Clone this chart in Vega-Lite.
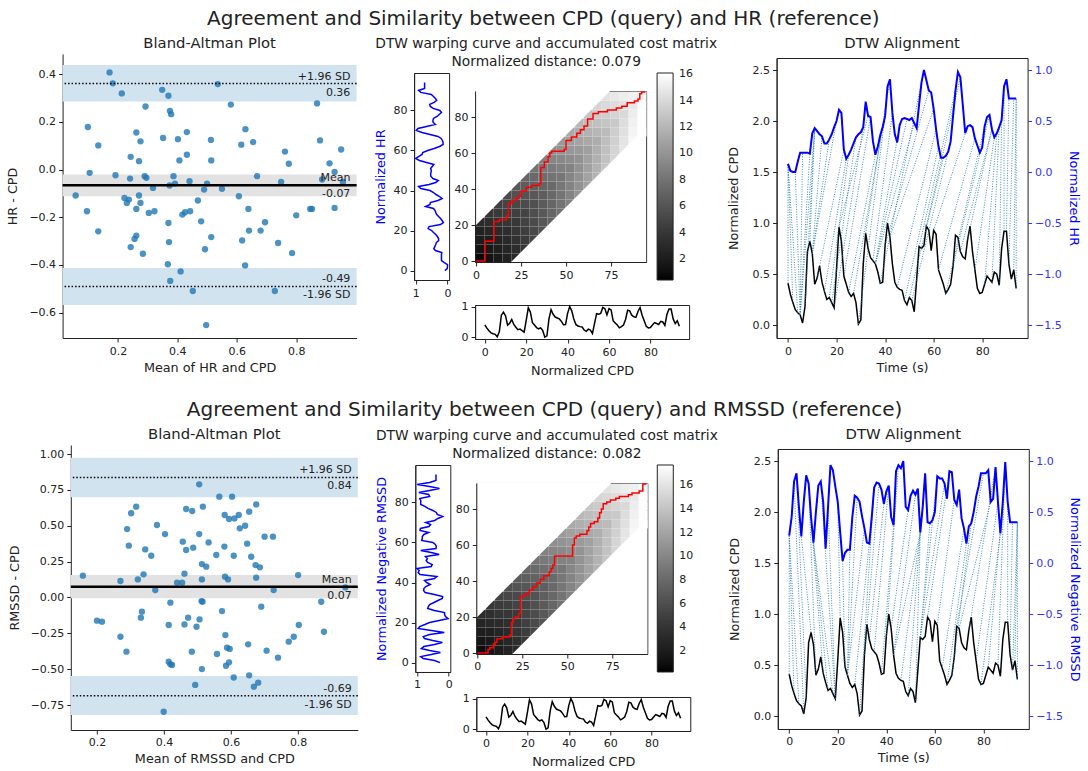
{
"$schema": "https://vega.github.io/schema/vega-lite/v6.json",
"padding": {"left": 6.6, "top": 8, "right": 1, "bottom": 1},
"config": {
  "font": "DejaVu Sans",
  "view": {"stroke": null},
  "axis": {"labelFont": "DejaVu Sans", "titleFont": "DejaVu Sans", "labelFontSize": 11, "titleFontSize": 12.8, "titleFontWeight": "normal", "labelColor": "#222", "titleColor": "#222", "tickColor": "#222", "domainColor": "#222", "tickSize": 4, "labelPadding": 3, "titlePadding": 5, "grid": false, "labelFlush": false, "labelOverlap": false, "labelBound": false},
  "title": {"font": "DejaVu Sans", "fontSize": 14.8, "fontWeight": "normal", "color": "#222", "frame": "group", "anchor": "middle", "offset": 3},
  "legend": {"labelFont": "DejaVu Sans", "labelFontSize": 11, "labelColor": "#222", "gradientStrokeColor": "#222", "gradientStrokeWidth": 1},
  "text": {"font": "DejaVu Sans", "fontSize": 11, "color": "#222"}
},
"datasets": {
  "cpd": [{"t":0,"v":0.41},{"t":1,"v":0.30},{"t":2,"v":0.22},{"t":3,"v":0.15},{"t":4,"v":0.12},{"t":5,"v":0.10},{"t":6,"v":0.02},{"t":7,"v":0.18},{"t":8,"v":0.72},{"t":9,"v":0.82},{"t":10,"v":0.70},{"t":11,"v":0.40},{"t":12,"v":0.46},{"t":13,"v":0.58},{"t":14,"v":0.42},{"t":15,"v":0.33},{"t":16,"v":0.25},{"t":17,"v":0.27},{"t":18,"v":0.22},{"t":19,"v":0.17},{"t":20,"v":0.55},{"t":21,"v":0.96},{"t":22,"v":0.82},{"t":23,"v":0.48},{"t":24,"v":0.40},{"t":25,"v":0.32},{"t":26,"v":0.28},{"t":27,"v":0.31},{"t":28,"v":0.22},{"t":29,"v":0.01},{"t":30,"v":0.05},{"t":31,"v":0.60},{"t":32,"v":0.90},{"t":33,"v":0.75},{"t":34,"v":0.66},{"t":35,"v":0.63},{"t":36,"v":0.60},{"t":37,"v":0.52},{"t":38,"v":0.41},{"t":39,"v":0.42},{"t":40,"v":0.78},{"t":41,"v":1.00},{"t":42,"v":0.86},{"t":43,"v":0.60},{"t":44,"v":0.42},{"t":45,"v":0.37},{"t":46,"v":0.35},{"t":47,"v":0.34},{"t":48,"v":0.24},{"t":49,"v":0.20},{"t":50,"v":0.27},{"t":51,"v":0.24},{"t":52,"v":0.13},{"t":53,"v":0.45},{"t":54,"v":0.77},{"t":55,"v":0.75},{"t":56,"v":0.78},{"t":57,"v":0.97},{"t":58,"v":0.93},{"t":59,"v":0.73},{"t":60,"v":0.93},{"t":61,"v":0.89},{"t":62,"v":0.54},{"t":63,"v":0.47},{"t":64,"v":0.40},{"t":65,"v":0.31},{"t":66,"v":0.35},{"t":67,"v":0.40},{"t":68,"v":0.58},{"t":69,"v":0.88},{"t":70,"v":0.86},{"t":71,"v":0.72},{"t":72,"v":0.67},{"t":73,"v":0.65},{"t":74,"v":0.84},{"t":75,"v":0.97},{"t":76,"v":0.72},{"t":77,"v":0.54},{"t":78,"v":0.36},{"t":79,"v":0.31},{"t":80,"v":0.32},{"t":81,"v":0.40},{"t":82,"v":0.48},{"t":83,"v":0.45},{"t":84,"v":0.42},{"t":85,"v":0.52},{"t":86,"v":0.50},{"t":87,"v":0.39},{"t":88,"v":0.75},{"t":89,"v":0.92},{"t":90,"v":0.92},{"t":91,"v":0.60},{"t":92,"v":0.45},{"t":93,"v":0.54},{"t":94,"v":0.36}],
  "hr": [{"t":0,"v":0.08},{"t":1,"v":0.01},{"t":2,"v":0.00},{"t":3,"v":0.00},{"t":4,"v":0.10},{"t":5,"v":0.19},{"t":6,"v":0.19},{"t":7,"v":0.19},{"t":8,"v":0.19},{"t":9,"v":0.18},{"t":10,"v":0.38},{"t":11,"v":0.43},{"t":12,"v":0.40},{"t":13,"v":0.37},{"t":14,"v":0.35},{"t":15,"v":0.28},{"t":16,"v":0.28},{"t":17,"v":0.32},{"t":18,"v":0.37},{"t":19,"v":0.44},{"t":20,"v":0.50},{"t":21,"v":0.61},{"t":22,"v":0.58},{"t":23,"v":0.22},{"t":24,"v":0.13},{"t":25,"v":0.17},{"t":26,"v":0.22},{"t":27,"v":0.28},{"t":28,"v":0.34},{"t":29,"v":0.37},{"t":30,"v":0.39},{"t":31,"v":0.44},{"t":32,"v":0.69},{"t":33,"v":0.55},{"t":34,"v":0.54},{"t":35,"v":0.30},{"t":36,"v":0.17},{"t":37,"v":0.25},{"t":38,"v":0.36},{"t":39,"v":0.44},{"t":40,"v":0.55},{"t":41,"v":0.84},{"t":42,"v":0.91},{"t":43,"v":0.58},{"t":44,"v":0.37},{"t":45,"v":0.29},{"t":46,"v":0.46},{"t":47,"v":0.52},{"t":48,"v":0.53},{"t":49,"v":0.52},{"t":50,"v":0.51},{"t":51,"v":0.53},{"t":52,"v":0.48},{"t":53,"v":0.43},{"t":54,"v":0.66},{"t":55,"v":0.88},{"t":56,"v":1.00},{"t":57,"v":0.90},{"t":58,"v":0.80},{"t":59,"v":0.78},{"t":60,"v":0.62},{"t":61,"v":0.42},{"t":62,"v":0.25},{"t":63,"v":0.14},{"t":64,"v":0.14},{"t":65,"v":0.16},{"t":66,"v":0.20},{"t":67,"v":0.30},{"t":68,"v":0.55},{"t":69,"v":0.80},{"t":70,"v":0.98},{"t":71,"v":0.93},{"t":72,"v":0.66},{"t":73,"v":0.38},{"t":74,"v":0.45},{"t":75,"v":0.46},{"t":76,"v":0.44},{"t":77,"v":0.33},{"t":78,"v":0.26},{"t":79,"v":0.19},{"t":80,"v":0.24},{"t":81,"v":0.45},{"t":82,"v":0.54},{"t":83,"v":0.56},{"t":84,"v":0.42},{"t":85,"v":0.34},{"t":86,"v":0.38},{"t":87,"v":0.44},{"t":88,"v":0.51},{"t":89,"v":0.84},{"t":90,"v":0.91},{"t":91,"v":0.72},{"t":92,"v":0.72},{"t":93,"v":0.72},{"t":94,"v":0.72}],
  "rmssd": [{"t":0,"v":0.27},{"t":1,"v":0.45},{"t":2,"v":0.80},{"t":3,"v":0.88},{"t":4,"v":0.55},{"t":5,"v":0.26},{"t":6,"v":0.60},{"t":7,"v":0.86},{"t":8,"v":0.78},{"t":9,"v":0.45},{"t":10,"v":0.20},{"t":11,"v":0.50},{"t":12,"v":0.76},{"t":13,"v":0.80},{"t":14,"v":0.60},{"t":15,"v":0.14},{"t":16,"v":0.55},{"t":17,"v":0.96},{"t":18,"v":0.91},{"t":19,"v":0.75},{"t":20,"v":0.60},{"t":21,"v":0.30},{"t":22,"v":0.02},{"t":23,"v":0.10},{"t":24,"v":0.13},{"t":25,"v":0.13},{"t":26,"v":0.45},{"t":27,"v":0.66},{"t":28,"v":0.64},{"t":29,"v":0.60},{"t":30,"v":0.46},{"t":31,"v":0.34},{"t":32,"v":0.20},{"t":33,"v":0.19},{"t":34,"v":0.45},{"t":35,"v":0.74},{"t":36,"v":0.79},{"t":37,"v":0.78},{"t":38,"v":0.72},{"t":39,"v":0.58},{"t":40,"v":0.70},{"t":41,"v":0.76},{"t":42,"v":0.45},{"t":43,"v":0.37},{"t":44,"v":0.90},{"t":45,"v":0.96},{"t":46,"v":0.93},{"t":47,"v":1.00},{"t":48,"v":0.55},{"t":49,"v":0.52},{"t":50,"v":0.66},{"t":51,"v":0.71},{"t":52,"v":0.67},{"t":53,"v":0.73},{"t":54,"v":0.30},{"t":55,"v":0.55},{"t":56,"v":0.88},{"t":57,"v":0.40},{"t":58,"v":0.39},{"t":59,"v":0.42},{"t":60,"v":0.50},{"t":61,"v":0.85},{"t":62,"v":0.83},{"t":63,"v":0.83},{"t":64,"v":0.78},{"t":65,"v":0.63},{"t":66,"v":0.90},{"t":67,"v":0.89},{"t":68,"v":0.62},{"t":69,"v":0.57},{"t":70,"v":0.72},{"t":71,"v":0.44},{"t":72,"v":0.34},{"t":73,"v":0.19},{"t":74,"v":0.36},{"t":75,"v":0.39},{"t":76,"v":0.50},{"t":77,"v":0.65},{"t":78,"v":0.75},{"t":79,"v":0.88},{"t":80,"v":0.88},{"t":81,"v":0.88},{"t":82,"v":0.91},{"t":83,"v":0.60},{"t":84,"v":0.63},{"t":85,"v":0.94},{"t":86,"v":0.60},{"t":87,"v":0.29},{"t":88,"v":0.60},{"t":89,"v":0.99},{"t":90,"v":0.60},{"t":91,"v":0.40},{"t":92,"v":0.40},{"t":93,"v":0.40},{"t":94,"v":0.40}],
  "ba1": [{"m":0.172,"d":0.407},{"m":0.183,"d":0.361},{"m":0.213,"d":0.319},{"m":0.293,"d":0.264},{"m":0.349,"d":0.334},{"m":0.370,"d":0.309},{"m":0.375,"d":0.246},{"m":0.379,"d":0.232},{"m":0.536,"d":0.358},{"m":0.580,"d":0.272},{"m":0.870,"d":0.277},{"m":0.099,"d":0.178},{"m":0.262,"d":0.155},{"m":0.134,"d":0.101},{"m":0.276,"d":0.118},{"m":0.352,"d":0.132},{"m":0.402,"d":0.127},{"m":0.432,"d":0.157},{"m":0.513,"d":0.124},{"m":0.629,"d":0.169},{"m":0.615,"d":0.104},{"m":0.655,"d":0.115},{"m":0.880,"d":0.122},{"m":0.243,"d":0.053},{"m":0.271,"d":0.035},{"m":0.432,"d":0.062},{"m":0.407,"d":0.038},{"m":0.514,"d":0.038},{"m":0.762,"d":0.075},{"m":0.775,"d":0.024},{"m":0.912,"d":0.026},{"m":0.951,"d":0.084},{"m":0.929,"d":-0.010},{"m":0.105,"d":-0.014},{"m":0.192,"d":-0.024},{"m":0.241,"d":-0.038},{"m":0.290,"d":-0.028},{"m":0.296,"d":-0.035},{"m":0.387,"d":-0.028},{"m":0.392,"d":-0.059},{"m":0.374,"d":-0.067},{"m":0.441,"d":-0.049},{"m":0.500,"d":-0.059},{"m":0.550,"d":-0.081},{"m":0.490,"d":-0.084},{"m":0.318,"d":-0.077},{"m":0.607,"d":-0.112},{"m":0.668,"d":-0.028},{"m":0.749,"d":-0.052},{"m":0.887,"d":-0.042},{"m":0.957,"d":-0.052},{"m":0.058,"d":-0.109},{"m":0.222,"d":-0.119},{"m":0.237,"d":-0.126},{"m":0.230,"d":-0.140},{"m":0.271,"d":-0.109},{"m":0.276,"d":-0.140},{"m":0.262,"d":-0.165},{"m":0.469,"d":-0.130},{"m":0.096,"d":-0.175},{"m":0.304,"d":-0.182},{"m":0.323,"d":-0.175},{"m":0.417,"d":-0.189},{"m":0.426,"d":-0.179},{"m":0.443,"d":-0.175},{"m":0.480,"d":-0.217},{"m":0.639,"d":-0.165},{"m":0.847,"d":-0.165},{"m":0.853,"d":-0.165},{"m":0.800,"d":-0.192},{"m":0.929,"d":-0.161},{"m":0.695,"d":-0.221},{"m":0.641,"d":-0.256},{"m":0.680,"d":-0.256},{"m":0.134,"d":-0.259},{"m":0.370,"d":-0.224},{"m":0.262,"d":-0.277},{"m":0.256,"d":-0.291},{"m":0.243,"d":-0.325},{"m":0.284,"d":-0.353},{"m":0.372,"d":-0.304},{"m":0.493,"d":-0.334},{"m":0.514,"d":-0.283},{"m":0.618,"d":-0.297},{"m":0.739,"d":-0.308},{"m":0.786,"d":-0.350},{"m":0.368,"d":-0.397},{"m":0.411,"d":-0.427},{"m":0.628,"d":-0.402},{"m":0.376,"d":-0.467},{"m":0.452,"d":-0.509},{"m":0.728,"d":-0.509},{"m":0.497,"d":-0.652}],
  "ba2": [{"m":0.505,"d":0.789},{"m":0.565,"d":0.703},{"m":0.603,"d":0.703},{"m":0.675,"d":0.649},{"m":0.317,"d":0.633},{"m":0.516,"d":0.633},{"m":0.466,"d":0.617},{"m":0.484,"d":0.603},{"m":0.302,"d":0.587},{"m":0.581,"d":0.575},{"m":0.623,"d":0.575},{"m":0.654,"d":0.598},{"m":0.610,"d":0.551},{"m":0.594,"d":0.547},{"m":0.642,"d":0.500},{"m":0.626,"d":0.482},{"m":0.290,"d":0.477},{"m":0.379,"d":0.505},{"m":0.403,"d":0.442},{"m":0.505,"d":0.442},{"m":0.700,"d":0.424},{"m":0.725,"d":0.424},{"m":0.456,"d":0.389},{"m":0.533,"d":0.384},{"m":0.487,"d":0.347},{"m":0.466,"d":0.331},{"m":0.295,"d":0.361},{"m":0.648,"d":0.375},{"m":0.580,"d":0.355},{"m":0.344,"d":0.335},{"m":0.362,"d":0.291},{"m":0.556,"d":0.296},{"m":0.608,"d":0.291},{"m":0.660,"d":0.284},{"m":0.513,"d":0.233},{"m":0.526,"d":0.215},{"m":0.673,"d":0.226},{"m":0.686,"d":0.210},{"m":0.158,"d":0.152},{"m":0.339,"d":0.161},{"m":0.461,"d":0.166},{"m":0.582,"d":0.145},{"m":0.591,"d":0.126},{"m":0.513,"d":0.126},{"m":0.322,"d":0.126},{"m":0.800,"d":0.156},{"m":0.675,"d":0.138},{"m":0.270,"d":0.115},{"m":0.439,"d":0.103},{"m":0.454,"d":0.103},{"m":0.374,"d":0.052},{"m":0.727,"d":0.052},{"m":0.941,"d":0.070},{"m":0.419,"d":-0.036},{"m":0.512,"d":-0.025},{"m":0.515,"d":-0.030},{"m":0.573,"d":-0.095},{"m":0.690,"d":-0.064},{"m":0.869,"d":-0.030},{"m":0.334,"d":-0.099},{"m":0.331,"d":-0.141},{"m":0.200,"d":-0.162},{"m":0.215,"d":-0.169},{"m":0.472,"d":-0.141},{"m":0.506,"d":-0.153},{"m":0.414,"d":-0.192},{"m":0.461,"d":-0.188},{"m":0.497,"d":-0.204},{"m":0.802,"d":-0.192},{"m":0.877,"d":-0.239},{"m":0.270,"d":-0.274},{"m":0.583,"d":-0.262},{"m":0.787,"d":-0.274},{"m":0.772,"d":-0.308},{"m":0.596,"d":-0.359},{"m":0.588,"d":-0.350},{"m":0.651,"d":-0.327},{"m":0.288,"d":-0.378},{"m":0.483,"d":-0.378},{"m":0.706,"d":-0.371},{"m":0.558,"d":-0.394},{"m":0.740,"d":-0.420},{"m":0.414,"d":-0.448},{"m":0.419,"d":-0.466},{"m":0.424,"d":-0.471},{"m":0.585,"d":-0.476},{"m":0.594,"d":-0.452},{"m":0.513,"d":-0.499},{"m":0.608,"d":-0.558},{"m":0.654,"d":-0.543},{"m":0.493,"d":-0.610},{"m":0.668,"d":-0.622},{"m":0.681,"d":-0.594},{"m":0.399,"d":-0.797}],
  "cm1": [{"i":-0.5,"j":-0.5,"v":0.8},{"i":-0.5,"j":4.5,"v":1.4},{"i":-0.5,"j":9.5,"v":2.0},{"i":-0.5,"j":14.5,"v":2.5},{"i":-0.5,"j":19.5,"v":3.1},
    {"i":4.5,"j":-0.5,"v":1.3},{"i":4.5,"j":4.5,"v":1.7},{"i":4.5,"j":9.5,"v":2.2},{"i":4.5,"j":14.5,"v":2.8},{"i":4.5,"j":19.5,"v":3.3},{"i":4.5,"j":24.5,"v":3.9},
    {"i":9.5,"j":-0.5,"v":1.8},{"i":9.5,"j":4.5,"v":2.2},{"i":9.5,"j":9.5,"v":2.5},{"i":9.5,"j":14.5,"v":3.0},{"i":9.5,"j":19.5,"v":3.6},{"i":9.5,"j":24.5,"v":4.2},{"i":9.5,"j":29.5,"v":4.7},
    {"i":14.5,"j":-0.5,"v":2.4},{"i":14.5,"j":4.5,"v":2.7},{"i":14.5,"j":9.5,"v":3.0},{"i":14.5,"j":14.5,"v":3.3},{"i":14.5,"j":19.5,"v":3.9},{"i":14.5,"j":24.5,"v":4.4},{"i":14.5,"j":29.5,"v":5.0},{"i":14.5,"j":34.5,"v":5.5},
    {"i":19.5,"j":-0.5,"v":3.0},{"i":19.5,"j":4.5,"v":3.3},{"i":19.5,"j":9.5,"v":3.6},{"i":19.5,"j":14.5,"v":3.9},{"i":19.5,"j":19.5,"v":4.1},{"i":19.5,"j":24.5,"v":4.7},{"i":19.5,"j":29.5,"v":5.2},{"i":19.5,"j":34.5,"v":5.8},{"i":19.5,"j":39.5,"v":6.3},
    {"i":24.5,"j":4.5,"v":4.0},{"i":24.5,"j":9.5,"v":4.3},{"i":24.5,"j":14.5,"v":4.5},{"i":24.5,"j":19.5,"v":4.8},{"i":24.5,"j":24.5,"v":4.9},{"i":24.5,"j":29.5,"v":5.5},{"i":24.5,"j":34.5,"v":6.0},{"i":24.5,"j":39.5,"v":6.6},{"i":24.5,"j":44.5,"v":7.2},
    {"i":29.5,"j":9.5,"v":5.0},{"i":29.5,"j":14.5,"v":5.2},{"i":29.5,"j":19.5,"v":5.4},{"i":29.5,"j":24.5,"v":5.6},{"i":29.5,"j":29.5,"v":5.8},{"i":29.5,"j":34.5,"v":6.3},{"i":29.5,"j":39.5,"v":6.9},{"i":29.5,"j":44.5,"v":7.4},{"i":29.5,"j":49.5,"v":8.0},
    {"i":34.5,"j":14.5,"v":5.9},{"i":34.5,"j":19.5,"v":6.2},{"i":34.5,"j":24.5,"v":6.3},{"i":34.5,"j":29.5,"v":6.5},{"i":34.5,"j":34.5,"v":6.6},{"i":34.5,"j":39.5,"v":7.1},{"i":34.5,"j":44.5,"v":7.7},{"i":34.5,"j":49.5,"v":8.3},{"i":34.5,"j":54.5,"v":8.8},
    {"i":39.5,"j":19.5,"v":6.9},{"i":39.5,"j":24.5,"v":7.1},{"i":39.5,"j":29.5,"v":7.2},{"i":39.5,"j":34.5,"v":7.3},{"i":39.5,"j":39.5,"v":7.4},{"i":39.5,"j":44.5,"v":8.0},{"i":39.5,"j":49.5,"v":8.5},{"i":39.5,"j":54.5,"v":9.1},{"i":39.5,"j":59.5,"v":9.6},
    {"i":44.5,"j":24.5,"v":7.9},{"i":44.5,"j":29.5,"v":8.0},{"i":44.5,"j":34.5,"v":8.1},{"i":44.5,"j":39.5,"v":8.2},{"i":44.5,"j":44.5,"v":8.2},{"i":44.5,"j":49.5,"v":8.8},{"i":44.5,"j":54.5,"v":9.3},{"i":44.5,"j":59.5,"v":9.9},{"i":44.5,"j":64.5,"v":10.4},
    {"i":49.5,"j":29.5,"v":8.9},{"i":49.5,"j":34.5,"v":9.0},{"i":49.5,"j":39.5,"v":9.0},{"i":49.5,"j":44.5,"v":9.1},{"i":49.5,"j":49.5,"v":9.0},{"i":49.5,"j":54.5,"v":9.6},{"i":49.5,"j":59.5,"v":10.2},{"i":49.5,"j":64.5,"v":10.7},{"i":49.5,"j":69.5,"v":11.3},
    {"i":54.5,"j":34.5,"v":9.9},{"i":54.5,"j":39.5,"v":9.9},{"i":54.5,"j":44.5,"v":9.9},{"i":54.5,"j":49.5,"v":9.9},{"i":54.5,"j":54.5,"v":9.9},{"i":54.5,"j":59.5,"v":10.4},{"i":54.5,"j":64.5,"v":11.0},{"i":54.5,"j":69.5,"v":11.5},{"i":54.5,"j":74.5,"v":12.1},
    {"i":59.5,"j":39.5,"v":10.8},{"i":59.5,"j":44.5,"v":10.9},{"i":59.5,"j":49.5,"v":10.8},{"i":59.5,"j":54.5,"v":10.8},{"i":59.5,"j":59.5,"v":10.7},{"i":59.5,"j":64.5,"v":11.2},{"i":59.5,"j":69.5,"v":11.8},{"i":59.5,"j":74.5,"v":12.4},{"i":59.5,"j":79.5,"v":12.9},
    {"i":64.5,"j":44.5,"v":11.8},{"i":64.5,"j":49.5,"v":11.8},{"i":64.5,"j":54.5,"v":11.7},{"i":64.5,"j":59.5,"v":11.6},{"i":64.5,"j":64.5,"v":11.5},{"i":64.5,"j":69.5,"v":12.1},{"i":64.5,"j":74.5,"v":12.6},{"i":64.5,"j":79.5,"v":13.2},{"i":64.5,"j":84.5,"v":13.7},
    {"i":69.5,"j":49.5,"v":12.8},{"i":69.5,"j":54.5,"v":12.7},{"i":69.5,"j":59.5,"v":12.6},{"i":69.5,"j":64.5,"v":12.5},{"i":69.5,"j":69.5,"v":12.3},{"i":69.5,"j":74.5,"v":12.9},{"i":69.5,"j":79.5,"v":13.4},{"i":69.5,"j":84.5,"v":14.0},{"i":69.5,"j":89.5,"v":14.5},
    {"i":74.5,"j":54.5,"v":13.8},{"i":74.5,"j":59.5,"v":13.7},{"i":74.5,"j":64.5,"v":13.5},{"i":74.5,"j":69.5,"v":13.4},{"i":74.5,"j":74.5,"v":13.1},{"i":74.5,"j":79.5,"v":13.7},{"i":74.5,"j":84.5,"v":14.2},{"i":74.5,"j":89.5,"v":14.8},
    {"i":79.5,"j":59.5,"v":14.7},{"i":79.5,"j":64.5,"v":14.6},{"i":79.5,"j":69.5,"v":14.4},{"i":79.5,"j":74.5,"v":14.2},{"i":79.5,"j":79.5,"v":14.0},{"i":79.5,"j":84.5,"v":14.5},{"i":79.5,"j":89.5,"v":15.1},
    {"i":84.5,"j":64.5,"v":15.7},{"i":84.5,"j":69.5,"v":15.5},{"i":84.5,"j":74.5,"v":15.3},{"i":84.5,"j":79.5,"v":15.1},{"i":84.5,"j":84.5,"v":14.8},{"i":84.5,"j":89.5,"v":15.3},
    {"i":89.5,"j":69.5,"v":16.0},{"i":89.5,"j":74.5,"v":16.0},{"i":89.5,"j":79.5,"v":16.0},{"i":89.5,"j":84.5,"v":15.9},{"i":89.5,"j":89.5,"v":15.6}],
  "cm2": [{"i":-0.5,"j":-0.5,"v":0.9},{"i":-0.5,"j":4.5,"v":1.5},{"i":-0.5,"j":9.5,"v":2.2},{"i":-0.5,"j":14.5,"v":2.8},{"i":-0.5,"j":19.5,"v":3.4},
    {"i":4.5,"j":-0.5,"v":1.4},{"i":4.5,"j":4.5,"v":1.9},{"i":4.5,"j":9.5,"v":2.4},{"i":4.5,"j":14.5,"v":3.1},{"i":4.5,"j":19.5,"v":3.6},{"i":4.5,"j":24.5,"v":4.3},
    {"i":9.5,"j":-0.5,"v":2.0},{"i":9.5,"j":4.5,"v":2.4},{"i":9.5,"j":9.5,"v":2.8},{"i":9.5,"j":14.5,"v":3.3},{"i":9.5,"j":19.5,"v":4.0},{"i":9.5,"j":24.5,"v":4.6},{"i":9.5,"j":29.5,"v":5.2},
    {"i":14.5,"j":-0.5,"v":2.6},{"i":14.5,"j":4.5,"v":3.0},{"i":14.5,"j":9.5,"v":3.3},{"i":14.5,"j":14.5,"v":3.6},{"i":14.5,"j":19.5,"v":4.3},{"i":14.5,"j":24.5,"v":4.8},{"i":14.5,"j":29.5,"v":5.5},{"i":14.5,"j":34.5,"v":6.1},
    {"i":19.5,"j":-0.5,"v":3.3},{"i":19.5,"j":4.5,"v":3.6},{"i":19.5,"j":9.5,"v":4.0},{"i":19.5,"j":14.5,"v":4.3},{"i":19.5,"j":19.5,"v":4.5},{"i":19.5,"j":24.5,"v":5.2},{"i":19.5,"j":29.5,"v":5.7},{"i":19.5,"j":34.5,"v":6.4},{"i":19.5,"j":39.5,"v":6.9},
    {"i":24.5,"j":4.5,"v":4.4},{"i":24.5,"j":9.5,"v":4.7},{"i":24.5,"j":14.5,"v":5.0},{"i":24.5,"j":19.5,"v":5.3},{"i":24.5,"j":24.5,"v":5.4},{"i":24.5,"j":29.5,"v":6.1},{"i":24.5,"j":34.5,"v":6.6},{"i":24.5,"j":39.5,"v":7.3},{"i":24.5,"j":44.5,"v":7.9},
    {"i":29.5,"j":9.5,"v":5.5},{"i":29.5,"j":14.5,"v":5.7},{"i":29.5,"j":19.5,"v":5.9},{"i":29.5,"j":24.5,"v":6.2},{"i":29.5,"j":29.5,"v":6.4},{"i":29.5,"j":34.5,"v":6.9},{"i":29.5,"j":39.5,"v":7.6},{"i":29.5,"j":44.5,"v":8.1},{"i":29.5,"j":49.5,"v":8.8},
    {"i":34.5,"j":14.5,"v":6.5},{"i":34.5,"j":19.5,"v":6.8},{"i":34.5,"j":24.5,"v":6.9},{"i":34.5,"j":29.5,"v":7.2},{"i":34.5,"j":34.5,"v":7.3},{"i":34.5,"j":39.5,"v":7.8},{"i":34.5,"j":44.5,"v":8.5},{"i":34.5,"j":49.5,"v":9.1},{"i":34.5,"j":54.5,"v":9.7},
    {"i":39.5,"j":19.5,"v":7.6},{"i":39.5,"j":24.5,"v":7.8},{"i":39.5,"j":29.5,"v":7.9},{"i":39.5,"j":34.5,"v":8.0},{"i":39.5,"j":39.5,"v":8.1},{"i":39.5,"j":44.5,"v":8.8},{"i":39.5,"j":49.5,"v":9.4},{"i":39.5,"j":54.5,"v":10.0},{"i":39.5,"j":59.5,"v":10.6},
    {"i":44.5,"j":24.5,"v":8.7},{"i":44.5,"j":29.5,"v":8.8},{"i":44.5,"j":34.5,"v":8.9},{"i":44.5,"j":39.5,"v":9.0},{"i":44.5,"j":44.5,"v":9.0},{"i":44.5,"j":49.5,"v":9.7},{"i":44.5,"j":54.5,"v":10.2},{"i":44.5,"j":59.5,"v":10.9},{"i":44.5,"j":64.5,"v":11.4},
    {"i":49.5,"j":29.5,"v":9.8},{"i":49.5,"j":34.5,"v":9.9},{"i":49.5,"j":39.5,"v":9.9},{"i":49.5,"j":44.5,"v":10.0},{"i":49.5,"j":49.5,"v":9.9},{"i":49.5,"j":54.5,"v":10.6},{"i":49.5,"j":59.5,"v":11.2},{"i":49.5,"j":64.5,"v":11.8},{"i":49.5,"j":69.5,"v":12.4},
    {"i":54.5,"j":34.5,"v":10.9},{"i":54.5,"j":39.5,"v":10.9},{"i":54.5,"j":44.5,"v":10.9},{"i":54.5,"j":49.5,"v":10.9},{"i":54.5,"j":54.5,"v":10.9},{"i":54.5,"j":59.5,"v":11.4},{"i":54.5,"j":64.5,"v":12.1},{"i":54.5,"j":69.5,"v":12.7},{"i":54.5,"j":74.5,"v":13.3},
    {"i":59.5,"j":39.5,"v":11.9},{"i":59.5,"j":44.5,"v":12.0},{"i":59.5,"j":49.5,"v":11.9},{"i":59.5,"j":54.5,"v":11.9},{"i":59.5,"j":59.5,"v":11.8},{"i":59.5,"j":64.5,"v":12.3},{"i":59.5,"j":69.5,"v":13.0},{"i":59.5,"j":74.5,"v":13.6},{"i":59.5,"j":79.5,"v":14.2},
    {"i":64.5,"j":44.5,"v":13.0},{"i":64.5,"j":49.5,"v":13.0},{"i":64.5,"j":54.5,"v":12.9},{"i":64.5,"j":59.5,"v":12.8},{"i":64.5,"j":64.5,"v":12.7},{"i":64.5,"j":69.5,"v":13.3},{"i":64.5,"j":74.5,"v":13.9},{"i":64.5,"j":79.5,"v":14.5},{"i":64.5,"j":84.5,"v":15.1},
    {"i":69.5,"j":49.5,"v":14.1},{"i":69.5,"j":54.5,"v":14.0},{"i":69.5,"j":59.5,"v":13.9},{"i":69.5,"j":64.5,"v":13.8},{"i":69.5,"j":69.5,"v":13.5},{"i":69.5,"j":74.5,"v":14.2},{"i":69.5,"j":79.5,"v":14.7},{"i":69.5,"j":84.5,"v":15.4},{"i":69.5,"j":89.5,"v":16.0},
    {"i":74.5,"j":54.5,"v":15.2},{"i":74.5,"j":59.5,"v":15.1},{"i":74.5,"j":64.5,"v":14.9},{"i":74.5,"j":69.5,"v":14.7},{"i":74.5,"j":74.5,"v":14.4},{"i":74.5,"j":79.5,"v":15.1},{"i":74.5,"j":84.5,"v":15.6},{"i":74.5,"j":89.5,"v":16.3},
    {"i":79.5,"j":59.5,"v":16.2},{"i":79.5,"j":64.5,"v":16.1},{"i":79.5,"j":69.5,"v":15.8},{"i":79.5,"j":74.5,"v":15.6},{"i":79.5,"j":79.5,"v":15.4},{"i":79.5,"j":84.5,"v":16.0},{"i":79.5,"j":89.5,"v":16.6},
    {"i":84.5,"j":64.5,"v":17.3},{"i":84.5,"j":69.5,"v":17.1},{"i":84.5,"j":74.5,"v":16.8},{"i":84.5,"j":79.5,"v":16.6},{"i":84.5,"j":84.5,"v":16.3},{"i":84.5,"j":89.5,"v":16.8},
    {"i":89.5,"j":69.5,"v":17.6},{"i":89.5,"j":74.5,"v":17.6},{"i":89.5,"j":79.5,"v":17.6},{"i":89.5,"j":84.5,"v":17.5},{"i":89.5,"j":89.5,"v":17.2}],
  "mask": [{"x":-0.5,"lo":19.5,"hi":94.5,"p":"a"},{"x":74.5,"lo":94.5,"hi":94.5,"p":"a"},{"x":19.5,"lo":-0.5,"hi":-0.5,"p":"b"},{"x":94.5,"lo":-0.5,"hi":74.5,"p":"b"}],
  "path1": [{"i":0,"j":0},{"i":5,"j":0},{"i":5,"j":11},{"i":10,"j":11},{"i":10,"j":22},{"i":13,"j":22},{"i":13,"j":23},{"i":17,"j":23},{"i":17,"j":25},{"i":18,"j":25},{"i":18,"j":32},{"i":20,"j":32},{"i":20,"j":34},{"i":23,"j":34},{"i":23,"j":36},{"i":25,"j":36},{"i":25,"j":39},{"i":28,"j":39},{"i":28,"j":41},{"i":31,"j":41},{"i":31,"j":42},{"i":35,"j":42},{"i":35,"j":43},{"i":36,"j":43},{"i":36,"j":52},{"i":38,"j":52},{"i":38,"j":55},{"i":40,"j":55},{"i":40,"j":58},{"i":41,"j":58},{"i":41,"j":60},{"i":42,"j":60},{"i":42,"j":61},{"i":49,"j":61},{"i":49,"j":62},{"i":50,"j":62},{"i":50,"j":67},{"i":53,"j":67},{"i":53,"j":69},{"i":56,"j":69},{"i":56,"j":71},{"i":58,"j":71},{"i":58,"j":73},{"i":60,"j":73},{"i":60,"j":75},{"i":62,"j":75},{"i":62,"j":79},{"i":65,"j":79},{"i":65,"j":82},{"i":68,"j":82},{"i":68,"j":83},{"i":73,"j":83},{"i":73,"j":84},{"i":78,"j":84},{"i":78,"j":85},{"i":81,"j":85},{"i":81,"j":86},{"i":84,"j":86},{"i":84,"j":88},{"i":88,"j":88},{"i":88,"j":89},{"i":90,"j":89},{"i":90,"j":90},{"i":91,"j":90},{"i":91,"j":93},{"i":92,"j":93},{"i":92,"j":94},{"i":94,"j":94}],
  "path2": [{"i":0,"j":0},{"i":6,"j":0},{"i":6,"j":2},{"i":7,"j":2},{"i":7,"j":3},{"i":9,"j":3},{"i":9,"j":5},{"i":10,"j":5},{"i":10,"j":6},{"i":11,"j":6},{"i":11,"j":8},{"i":14,"j":8},{"i":14,"j":9},{"i":18,"j":9},{"i":18,"j":10},{"i":19,"j":10},{"i":19,"j":17},{"i":20,"j":17},{"i":20,"j":19},{"i":21,"j":19},{"i":21,"j":20},{"i":23,"j":20},{"i":23,"j":22},{"i":24,"j":22},{"i":24,"j":31},{"i":25,"j":31},{"i":25,"j":32},{"i":27,"j":32},{"i":27,"j":33},{"i":29,"j":33},{"i":29,"j":35},{"i":31,"j":35},{"i":31,"j":37},{"i":33,"j":37},{"i":33,"j":39},{"i":35,"j":39},{"i":35,"j":41},{"i":37,"j":41},{"i":37,"j":43},{"i":40,"j":43},{"i":40,"j":45},{"i":41,"j":45},{"i":41,"j":47},{"i":42,"j":47},{"i":42,"j":49},{"i":43,"j":49},{"i":43,"j":54},{"i":53,"j":54},{"i":53,"j":60},{"i":54,"j":60},{"i":54,"j":64},{"i":55,"j":64},{"i":55,"j":65},{"i":57,"j":65},{"i":57,"j":66},{"i":61,"j":66},{"i":61,"j":68},{"i":62,"j":68},{"i":62,"j":70},{"i":63,"j":70},{"i":63,"j":72},{"i":65,"j":72},{"i":65,"j":73},{"i":67,"j":73},{"i":67,"j":75},{"i":68,"j":75},{"i":68,"j":78},{"i":69,"j":78},{"i":69,"j":80},{"i":70,"j":80},{"i":70,"j":83},{"i":72,"j":83},{"i":72,"j":84},{"i":74,"j":84},{"i":74,"j":85},{"i":77,"j":85},{"i":77,"j":86},{"i":79,"j":86},{"i":79,"j":87},{"i":84,"j":87},{"i":84,"j":88},{"i":86,"j":88},{"i":86,"j":89},{"i":90,"j":89},{"i":90,"j":90},{"i":92,"j":90},{"i":92,"j":94},{"i":94,"j":94}],
  "conn1": [{"t1":0,"v1":0.41,"t2":0,"v2":1.58},{"t1":2,"v1":0.22,"t2":0,"v2":1.58},{"t1":4,"v1":0.12,"t2":0,"v2":1.58},{"t1":5,"v1":0.10,"t2":3,"v2":1.50},{"t1":5,"v1":0.10,"t2":6,"v2":1.69},{"t1":5,"v1":0.10,"t2":9,"v2":1.68},{"t1":5,"v1":0.10,"t2":11,"v2":1.93},{"t1":7,"v1":0.18,"t2":11,"v2":1.93},{"t1":9,"v1":0.82,"t2":11,"v2":1.93},{"t1":10,"v1":0.70,"t2":14,"v2":1.85},{"t1":10,"v1":0.70,"t2":17,"v2":1.82},{"t1":10,"v1":0.70,"t2":20,"v2":2.00},{"t1":12,"v1":0.46,"t2":23,"v2":1.72},{"t1":15,"v1":0.33,"t2":24,"v2":1.63},{"t1":17,"v1":0.27,"t2":25,"v2":1.67},{"t1":18,"v1":0.22,"t2":28,"v2":1.84},{"t1":19,"v1":0.17,"t2":31,"v2":1.94},{"t1":21,"v1":0.96,"t2":33,"v2":2.05},{"t1":23,"v1":0.48,"t2":34,"v2":2.04},{"t1":25,"v1":0.32,"t2":36,"v2":1.67},{"t1":27,"v1":0.31,"t2":39,"v2":1.94},{"t1":29,"v1":0.01,"t2":40,"v2":2.05},{"t1":32,"v1":0.90,"t2":42,"v2":2.41},{"t1":35,"v1":0.63,"t2":43,"v2":2.08},{"t1":36,"v1":0.60,"t2":46,"v2":1.96},{"t1":36,"v1":0.60,"t2":49,"v2":2.02},{"t1":36,"v1":0.60,"t2":52,"v2":1.98},{"t1":38,"v1":0.41,"t2":55,"v2":2.38},{"t1":40,"v1":0.78,"t2":58,"v2":2.30},{"t1":42,"v1":0.86,"t2":60,"v2":2.12},{"t1":45,"v1":0.37,"t2":61,"v2":1.92},{"t1":48,"v1":0.24,"t2":62,"v2":1.75},{"t1":50,"v1":0.27,"t2":64,"v2":1.64},{"t1":51,"v1":0.24,"t2":67,"v2":1.80},{"t1":54,"v1":0.77,"t2":69,"v2":2.30},{"t1":57,"v1":0.97,"t2":71,"v2":2.43},{"t1":60,"v1":0.93,"t2":74,"v2":1.95},{"t1":62,"v1":0.54,"t2":77,"v2":1.83},{"t1":65,"v1":0.31,"t2":81,"v2":1.95},{"t1":68,"v1":0.58,"t2":83,"v2":2.06},{"t1":71,"v1":0.72,"t2":84,"v2":1.92},{"t1":74,"v1":0.84,"t2":84,"v2":1.92},{"t1":77,"v1":0.54,"t2":85,"v2":1.84},{"t1":81,"v1":0.40,"t2":86,"v2":1.88},{"t1":84,"v1":0.42,"t2":87,"v2":1.94},{"t1":87,"v1":0.39,"t2":88,"v2":2.01},{"t1":89,"v1":0.92,"t2":89,"v2":2.34},{"t1":90,"v1":0.92,"t2":91,"v2":2.22},{"t1":91,"v1":0.60,"t2":93,"v2":2.22},{"t1":93,"v1":0.54,"t2":94,"v2":2.22},{"t1":94,"v1":0.36,"t2":94,"v2":2.22}],
  "conn2": [{"t1":0,"v1":0.41,"t2":0,"v2":1.77},{"t1":2,"v1":0.22,"t2":0,"v2":1.77},{"t1":4,"v1":0.12,"t2":0,"v2":1.77},{"t1":6,"v1":0.02,"t2":2,"v2":2.30},{"t1":7,"v1":0.18,"t2":3,"v2":2.38},{"t1":9,"v1":0.82,"t2":5,"v2":1.76},{"t1":11,"v1":0.40,"t2":8,"v2":2.28},{"t1":14,"v1":0.42,"t2":9,"v2":1.95},{"t1":16,"v1":0.25,"t2":10,"v2":1.70},{"t1":18,"v1":0.22,"t2":10,"v2":1.70},{"t1":19,"v1":0.17,"t2":13,"v2":2.30},{"t1":19,"v1":0.17,"t2":16,"v2":2.05},{"t1":21,"v1":0.96,"t2":20,"v2":2.10},{"t1":23,"v1":0.48,"t2":22,"v2":1.52},{"t1":24,"v1":0.40,"t2":25,"v2":1.63},{"t1":24,"v1":0.40,"t2":28,"v2":2.14},{"t1":24,"v1":0.40,"t2":31,"v2":1.84},{"t1":27,"v1":0.31,"t2":33,"v2":1.69},{"t1":29,"v1":0.01,"t2":35,"v2":2.24},{"t1":31,"v1":0.60,"t2":37,"v2":2.28},{"t1":33,"v1":0.75,"t2":39,"v2":2.08},{"t1":35,"v1":0.63,"t2":41,"v2":2.26},{"t1":38,"v1":0.41,"t2":43,"v2":1.87},{"t1":40,"v1":0.78,"t2":45,"v2":2.46},{"t1":42,"v1":0.86,"t2":49,"v2":2.02},{"t1":43,"v1":0.60,"t2":52,"v2":2.17},{"t1":43,"v1":0.60,"t2":54,"v2":1.80},{"t1":46,"v1":0.35,"t2":54,"v2":1.80},{"t1":49,"v1":0.20,"t2":54,"v2":1.80},{"t1":52,"v1":0.13,"t2":54,"v2":1.80},{"t1":54,"v1":0.77,"t2":58,"v2":1.89},{"t1":54,"v1":0.77,"t2":61,"v2":2.35},{"t1":54,"v1":0.77,"t2":64,"v2":2.28},{"t1":57,"v1":0.97,"t2":66,"v2":2.40},{"t1":61,"v1":0.89,"t2":68,"v2":2.12},{"t1":63,"v1":0.47,"t2":72,"v2":1.84},{"t1":65,"v1":0.31,"t2":73,"v2":1.69},{"t1":67,"v1":0.40,"t2":75,"v2":1.89},{"t1":69,"v1":0.88,"t2":80,"v2":2.38},{"t1":70,"v1":0.86,"t2":83,"v2":2.10},{"t1":74,"v1":0.84,"t2":85,"v2":2.44},{"t1":77,"v1":0.54,"t2":86,"v2":2.10},{"t1":79,"v1":0.31,"t2":87,"v2":1.79},{"t1":82,"v1":0.48,"t2":88,"v2":2.10},{"t1":86,"v1":0.50,"t2":89,"v2":2.49},{"t1":90,"v1":0.92,"t2":90,"v2":2.10},{"t1":91,"v1":0.60,"t2":92,"v2":1.90},{"t1":92,"v1":0.45,"t2":94,"v2":1.90},{"t1":93,"v1":0.54,"t2":94,"v2":1.90},{"t1":94,"v1":0.36,"t2":94,"v2":1.90}]
},
"concat": [
 {
  "title": {"text": "Agreement and Similarity between CPD (query) and HR (reference)", "fontSize": 20, "frame": "bounds", "offset": 7},
  "spacing": 9,
  "resolve": {"scale": {"color": "independent"}, "legend": {"color": "independent"}},
  "hconcat": [
   {
    "spacing": 14.5,
    "resolve": {"scale": {"color": "independent"}, "legend": {"color": "independent"}},
    "hconcat": [
     {
      "width": 294, "height": 284,
      "title": {"text": "Bland-Altman Plot", "offset": 3},
      "layer": [
       {"data": {"values": [{"lo":0.285,"hi":0.438,"k":"sd"},{"lo":-0.112,"hi":-0.021,"k":"mean"},{"lo":-0.568,"hi":-0.413,"k":"sd"}]},
        "mark": {"type": "rect"},
        "encoding": {"y": {"field": "lo", "type": "quantitative", "scale": {"domain": [-0.706, 0.484], "nice": false, "zero": false}, "axis": {"values": [-0.6,-0.4,-0.2,0,0.2,0.4], "format": ".1f", "title": "HR - CPD", "titlePadding": 9}}, "y2": {"field": "hi"},
          "fill": {"condition": {"test": "datum.k === 'mean'", "value": "#e2e2e2"}, "value": "#d2e3f0"}}},
       {"data": {"name": "ba1"}, "mark": {"type": "circle", "size": 40, "opacity": 0.8, "color": "#1f77b4"},
        "encoding": {"x": {"field": "m", "type": "quantitative", "scale": {"domain": [0.014, 1.003], "nice": false, "zero": false}, "axis": {"values": [0.2,0.4,0.6,0.8], "format": ".1f", "title": "Mean of HR and CPD"}},
          "y": {"field": "d", "type": "quantitative"}}},
       {"data": {"values": [{"y": -0.066}]}, "mark": {"type": "rule", "color": "#000", "strokeWidth": 2.5}, "encoding": {"y": {"field": "y", "type": "quantitative"}}},
       {"data": {"values": [{"y": 0.36}, {"y": -0.49}]}, "mark": {"type": "rule", "color": "#000", "strokeWidth": 1.5, "strokeDash": [1.5, 2]}, "encoding": {"y": {"field": "y", "type": "quantitative"}}},
       {"data": {"values": [{"y": 0.36, "t": "+1.96 SD"}, {"y": -0.066, "t": "Mean"}, {"y": -0.49, "t": "-0.49"}]}, "mark": {"type": "text", "align": "right", "baseline": "bottom", "dy": -2},
        "encoding": {"x": {"datum": 0.982, "type": "quantitative"}, "y": {"field": "y", "type": "quantitative"}, "text": {"field": "t"}}},
       {"data": {"values": [{"y": 0.36, "t": "0.36"}, {"y": -0.066, "t": "-0.07"}, {"y": -0.49, "t": "-1.96 SD"}]}, "mark": {"type": "text", "align": "right", "baseline": "top", "dy": 3},
        "encoding": {"x": {"datum": 0.982, "type": "quantitative"}, "y": {"field": "y", "type": "quantitative"}, "text": {"field": "t"}}}
      ]
     },
     {
      "bounds": "flush", "spacing": 18,
      "resolve": {"scale": {"color": "independent"}, "legend": {"color": "independent"}},
      "vconcat": [
       {"width": 1, "height": 1, "data": {"values": []}, "mark": "point"},
       {
        "title": {"text": ["DTW warping curve and accumulated cost matrix", "Normalized distance: 0.079"], "fontSize": 13.8, "offset": 3.6, "lineHeight": 18, "frame": "bounds", "dx": 12.6},
        "spacing": 1,
        "resolve": {"scale": {"color": "independent"}, "legend": {"color": "independent"}},
        "hconcat": [
         {"width": 35, "height": 207, "view": {"stroke": "#222"}, "data": {"name": "hr"}, "mark": {"type": "line", "color": "#0000ff", "strokeWidth": 1.5},
          "encoding": {"x": {"field": "v", "type": "quantitative", "scale": {"domain": [-0.05, 1.05], "reverse": true, "nice": false, "zero": false}, "axis": {"values": [0, 1], "format": "d", "title": null}},
            "y": {"field": "t", "type": "quantitative", "scale": {"domain": [-4.7, 98.7], "nice": false, "zero": false}, "axis": {"values": [0,20,40,60,80], "title": "Normalized HR", "titleColor": "#0000ff", "titlePadding": 6}},
            "order": {"field": "t", "type": "quantitative"}}},
         {
          "bounds": "flush", "spacing": 0,
          "resolve": {"scale": {"color": "independent"}, "legend": {"color": "independent"}},
          "vconcat": [
           {"width": 1, "height": 18, "data": {"values": []}, "mark": "point"},
           {"width": 171, "height": 171, "view": {"stroke": "#222"},
            "layer": [
             {"data": {"name": "cm1"}, "mark": {"type": "rect", "binSpacing": 0},
              "encoding": {"x": {"field": "i", "type": "quantitative", "bin": {"binned": true, "step": 5}, "scale": {"domain": [-0.5, 94.5], "nice": false, "zero": false}, "axis": {"values": [0,25,50,75], "title": null, "format": "d"}},
                "y": {"field": "j", "type": "quantitative", "bin": {"binned": true, "step": 5}, "scale": {"domain": [-0.5, 94.5], "nice": false, "zero": false}, "axis": {"values": [0,20,40,60,80], "title": null, "format": "d"}},
                "color": {"field": "v", "type": "quantitative", "scale": {"domain": [0.43, 16.08], "range": ["#000000", "#ffffff"]},
                  "legend": {"orient": "none", "legendX": 182, "legendY": -18, "direction": "vertical", "gradientLength": 207, "gradientThickness": 16, "title": null, "values": [2,4,6,8,10,12,14,16], "labelOffset": 6}}}},
             {"data": {"name": "mask"}, "mark": {"type": "area", "color": "#ffffff"},
              "encoding": {"x": {"field": "x", "type": "quantitative", "axis": {"values": [0,25,50,75], "title": null, "format": "d"}}, "y": {"field": "lo", "type": "quantitative", "axis": {"values": [0,20,40,60,80], "title": null, "format": "d"}}, "y2": {"field": "hi"}, "detail": {"field": "p"}}},
             {"data": {"name": "path1"}, "mark": {"type": "line", "color": "#ff0000", "strokeWidth": 1.5},
              "encoding": {"x": {"field": "i", "type": "quantitative", "axis": {"values": [0,25,50,75], "title": null, "format": "d"}}, "y": {"field": "j", "type": "quantitative", "axis": {"values": [0,20,40,60,80], "title": null, "format": "d"}}, "order": {"value": null}}}
            ]},
           {"width": 1, "height": 43, "data": {"values": []}, "mark": "point"},
           {"width": 214, "height": 34, "view": {"stroke": "#222"}, "data": {"name": "cpd"}, "mark": {"type": "line", "color": "#000", "strokeWidth": 1.5},
            "encoding": {"x": {"field": "t", "type": "quantitative", "scale": {"domain": [-4.7, 98.7], "nice": false, "zero": false}, "axis": {"values": [0,20,40,60,80], "title": "Normalized CPD", "titlePadding": 7}},
              "y": {"field": "v", "type": "quantitative", "scale": {"domain": [-0.05, 1.05], "nice": false, "zero": false}, "axis": {"values": [0, 1], "format": "d", "title": null}}}}
          ]
         }
        ]
       }
      ]
     }
    ]
   },
   {
    "bounds": "flush", "spacing": 3,
    "vconcat": [
     {"width": 1, "height": 1, "data": {"values": []}, "mark": "point"},
     {"width": 251, "height": 280, "view": {"stroke": "#222"},
      "title": {"text": "DTW Alignment", "offset": 7},
      "layer": [
       {"layer": [
         {"data": {"name": "cpd"}, "mark": {"type": "line", "color": "#000", "strokeWidth": 1.5},
          "encoding": {"x": {"field": "t", "type": "quantitative", "scale": {"domain": [-4.7, 98.7], "nice": false, "zero": false}, "axis": {"values": [0,20,40,60,80], "title": "Time (s)"}},
            "y": {"field": "v", "type": "quantitative", "scale": {"domain": [-0.127, 2.618], "nice": false, "zero": false}, "axis": {"values": [0,0.5,1,1.5,2,2.5], "format": ".1f", "title": "Normalized CPD", "titlePadding": 12}}}},
         {"data": {"name": "conn1"}, "mark": {"type": "rule", "color": "#1f77b4", "strokeDash": [1, 1.5], "strokeWidth": 1, "opacity": 0.85},
          "encoding": {"x": {"field": "t1", "type": "quantitative"}, "x2": {"field": "t2"}, "y": {"field": "v1", "type": "quantitative"}, "y2": {"field": "v2"}}}
       ]},
       {"data": {"name": "hr"}, "mark": {"type": "line", "color": "#0000ff", "strokeWidth": 2},
        "encoding": {"x": {"field": "t", "type": "quantitative"},
          "y": {"field": "v", "type": "quantitative", "scale": {"domain": [-1.627, 1.118], "nice": false, "zero": false}, "axis": {"orient": "right", "values": [-1.5,-1,-0.5,0,0.5,1], "format": ".1f", "title": "Normalized HR", "labelColor": "#3333ff", "tickColor": "#3333ff", "titleColor": "#0000ff", "domain": false, "titlePadding": 5}}}}
      ],
      "resolve": {"scale": {"y": "independent"}}
     }
    ]
   }
  ]
 },
 {
  "title": {"text": "Agreement and Similarity between CPD (query) and RMSSD (reference)", "fontSize": 20, "frame": "bounds", "offset": 7},
  "spacing": -55.8,
  "resolve": {"scale": {"color": "independent"}, "legend": {"color": "independent"}},
  "hconcat": [
   {"width": 1, "height": 1, "data": {"values": []}, "mark": "point"},
   {
  "spacing": 9,
  "resolve": {"scale": {"color": "independent"}, "legend": {"color": "independent"}},
  "hconcat": [
   {
    "spacing": 14.5,
    "resolve": {"scale": {"color": "independent"}, "legend": {"color": "independent"}},
    "hconcat": [
     {
      "width": 287, "height": 285,
      "title": {"text": "Bland-Altman Plot", "offset": 3},
      "layer": [
       {"data": {"values": [{"lo":0.698,"hi":0.974,"k":"sd"},{"lo":-0.006,"hi":0.156,"k":"mean"},{"lo":-0.82,"hi":-0.548,"k":"sd"}]},
        "mark": {"type": "rect"},
        "encoding": {"y": {"field": "lo", "type": "quantitative", "scale": {"domain": [-0.924, 1.063], "nice": false, "zero": false}, "axis": {"values": [-0.75,-0.5,-0.25,0,0.25,0.5,0.75,1], "format": ".2f", "title": "RMSSD - CPD", "titlePadding": 9}}, "y2": {"field": "hi"},
          "fill": {"condition": {"test": "datum.k === 'mean'", "value": "#e2e2e2"}, "value": "#d2e3f0"}}},
       {"data": {"name": "ba2"}, "mark": {"type": "circle", "size": 40, "opacity": 0.8, "color": "#1f77b4"},
        "encoding": {"x": {"field": "m", "type": "quantitative", "scale": {"domain": [0.122, 0.978], "nice": false, "zero": false}, "axis": {"values": [0.2,0.4,0.6,0.8], "format": ".1f", "title": "Mean of RMSSD and CPD"}},
          "y": {"field": "d", "type": "quantitative"}}},
       {"data": {"values": [{"y": 0.075}]}, "mark": {"type": "rule", "color": "#000", "strokeWidth": 2.5}, "encoding": {"y": {"field": "y", "type": "quantitative"}}},
       {"data": {"values": [{"y": 0.837}, {"y": -0.685}]}, "mark": {"type": "rule", "color": "#000", "strokeWidth": 1.5, "strokeDash": [1.5, 2]}, "encoding": {"y": {"field": "y", "type": "quantitative"}}},
       {"data": {"values": [{"y": 0.837, "t": "+1.96 SD"}, {"y": 0.075, "t": "Mean"}, {"y": -0.685, "t": "-0.69"}]}, "mark": {"type": "text", "align": "right", "baseline": "bottom", "dy": -2},
        "encoding": {"x": {"datum": 0.960, "type": "quantitative"}, "y": {"field": "y", "type": "quantitative"}, "text": {"field": "t"}}},
       {"data": {"values": [{"y": 0.837, "t": "0.84"}, {"y": 0.075, "t": "0.07"}, {"y": -0.685, "t": "-1.96 SD"}]}, "mark": {"type": "text", "align": "right", "baseline": "top", "dy": 3},
        "encoding": {"x": {"datum": 0.960, "type": "quantitative"}, "y": {"field": "y", "type": "quantitative"}, "text": {"field": "t"}}}
      ]
     },
     {
      "bounds": "flush", "spacing": 19,
      "resolve": {"scale": {"color": "independent"}, "legend": {"color": "independent"}},
      "vconcat": [
       {"width": 1, "height": 1, "data": {"values": []}, "mark": "point"},
       {
        "title": {"text": ["DTW warping curve and accumulated cost matrix", "Normalized distance: 0.082"], "fontSize": 13.8, "offset": 3.6, "lineHeight": 18, "frame": "bounds", "dx": 12.6},
        "spacing": 1,
        "resolve": {"scale": {"color": "independent"}, "legend": {"color": "independent"}},
        "hconcat": [
         {"width": 35, "height": 207, "view": {"stroke": "#222"}, "data": {"name": "rmssd"}, "mark": {"type": "line", "color": "#0000ff", "strokeWidth": 1.5},
          "encoding": {"x": {"field": "v", "type": "quantitative", "scale": {"domain": [-0.05, 1.05], "reverse": true, "nice": false, "zero": false}, "axis": {"values": [0, 1], "format": "d", "title": null}},
            "y": {"field": "t", "type": "quantitative", "scale": {"domain": [-4.7, 98.7], "nice": false, "zero": false}, "axis": {"values": [0,20,40,60,80], "title": "Normalized Negative RMSSD", "titleColor": "#0000ff", "titlePadding": 6}},
            "order": {"field": "t", "type": "quantitative"}}},
         {
          "bounds": "flush", "spacing": 0,
          "resolve": {"scale": {"color": "independent"}, "legend": {"color": "independent"}},
          "vconcat": [
           {"width": 1, "height": 18, "data": {"values": []}, "mark": "point"},
           {"width": 171, "height": 171, "view": {"stroke": "#222"},
            "layer": [
             {"data": {"name": "cm2"}, "mark": {"type": "rect", "binSpacing": 0},
              "encoding": {"x": {"field": "i", "type": "quantitative", "bin": {"binned": true, "step": 5}, "scale": {"domain": [-0.5, 94.5], "nice": false, "zero": false}, "axis": {"values": [0,25,50,75], "title": null, "format": "d"}},
                "y": {"field": "j", "type": "quantitative", "bin": {"binned": true, "step": 5}, "scale": {"domain": [-0.5, 94.5], "nice": false, "zero": false}, "axis": {"values": [0,20,40,60,80], "title": null, "format": "d"}},
                "color": {"field": "v", "type": "quantitative", "scale": {"domain": [0.24, 17.7], "range": ["#000000", "#ffffff"]},
                  "legend": {"orient": "none", "legendX": 181, "legendY": -18, "direction": "vertical", "gradientLength": 207, "gradientThickness": 16, "title": null, "values": [2,4,6,8,10,12,14,16], "labelOffset": 6}}}},
             {"data": {"name": "mask"}, "mark": {"type": "area", "color": "#ffffff"},
              "encoding": {"x": {"field": "x", "type": "quantitative", "axis": {"values": [0,25,50,75], "title": null, "format": "d"}}, "y": {"field": "lo", "type": "quantitative", "axis": {"values": [0,20,40,60,80], "title": null, "format": "d"}}, "y2": {"field": "hi"}, "detail": {"field": "p"}}},
             {"data": {"name": "path2"}, "mark": {"type": "line", "color": "#ff0000", "strokeWidth": 1.5},
              "encoding": {"x": {"field": "i", "type": "quantitative", "axis": {"values": [0,25,50,75], "title": null, "format": "d"}}, "y": {"field": "j", "type": "quantitative", "axis": {"values": [0,20,40,60,80], "title": null, "format": "d"}}, "order": {"value": null}}}
            ]},
           {"width": 1, "height": 43, "data": {"values": []}, "mark": "point"},
           {"width": 214, "height": 34, "view": {"stroke": "#222"}, "data": {"name": "cpd"}, "mark": {"type": "line", "color": "#000", "strokeWidth": 1.5},
            "encoding": {"x": {"field": "t", "type": "quantitative", "scale": {"domain": [-4.7, 98.7], "nice": false, "zero": false}, "axis": {"values": [0,20,40,60,80], "title": "Normalized CPD", "titlePadding": 7}},
              "y": {"field": "v", "type": "quantitative", "scale": {"domain": [-0.05, 1.05], "nice": false, "zero": false}, "axis": {"values": [0, 1], "format": "d", "title": null}}}}
          ]
         }
        ]
       }
      ]
     }
    ]
   },
   {
    "bounds": "flush", "spacing": 3,
    "vconcat": [
     {"width": 1, "height": 1, "data": {"values": []}, "mark": "point"},
     {"width": 251, "height": 280, "view": {"stroke": "#222"},
      "title": {"text": "DTW Alignment", "offset": 7},
      "layer": [
       {"layer": [
         {"data": {"name": "cpd"}, "mark": {"type": "line", "color": "#000", "strokeWidth": 1.5},
          "encoding": {"x": {"field": "t", "type": "quantitative", "scale": {"domain": [-4.7, 98.7], "nice": false, "zero": false}, "axis": {"values": [0,20,40,60,80], "title": "Time (s)"}},
            "y": {"field": "v", "type": "quantitative", "scale": {"domain": [-0.127, 2.618], "nice": false, "zero": false}, "axis": {"values": [0,0.5,1,1.5,2,2.5], "format": ".1f", "title": "Normalized CPD", "titlePadding": 12}}}},
         {"data": {"name": "conn2"}, "mark": {"type": "rule", "color": "#1f77b4", "strokeDash": [1, 1.5], "strokeWidth": 1, "opacity": 0.85},
          "encoding": {"x": {"field": "t1", "type": "quantitative"}, "x2": {"field": "t2"}, "y": {"field": "v1", "type": "quantitative"}, "y2": {"field": "v2"}}}
       ]},
       {"data": {"name": "rmssd"}, "mark": {"type": "line", "color": "#0000ff", "strokeWidth": 2},
        "encoding": {"x": {"field": "t", "type": "quantitative"},
          "y": {"field": "v", "type": "quantitative", "scale": {"domain": [-1.627, 1.118], "nice": false, "zero": false}, "axis": {"orient": "right", "values": [-1.5,-1,-0.5,0,0.5,1], "format": ".1f", "title": "Normalized Negative RMSSD", "labelColor": "#3333ff", "tickColor": "#3333ff", "titleColor": "#0000ff", "domain": false, "titlePadding": 5}}}}
      ],
      "resolve": {"scale": {"y": "independent"}}
     }
    ]
   }
  ]
   }
  ]
 }
],
"columns": 1,
"align": {"row": "each", "column": "none"},
"spacing": 21,
"resolve": {"scale": {"color": "independent"}, "legend": {"color": "independent"}}
}
